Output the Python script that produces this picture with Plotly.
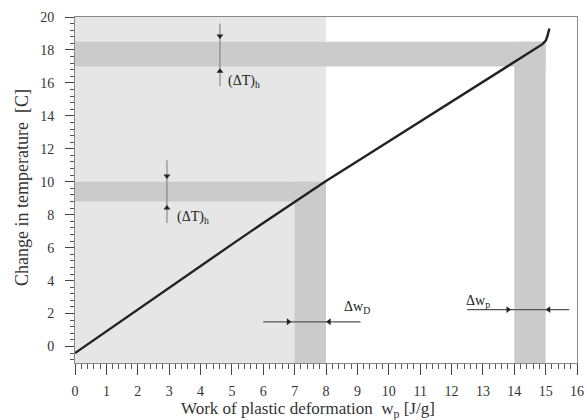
import plotly.graph_objects as go

# Curve: work of plastic deformation vs change in temperature
w_p = [0, 1, 2, 3, 4, 5, 6, 7, 8, 9, 10, 11, 12, 13, 14, 14.5, 14.9, 15.0, 15.05, 15.12]
dT = [-0.4, 0.93, 2.26, 3.58, 4.9, 6.2, 7.5, 8.78, 10.05, 11.25, 12.45, 13.65, 14.85, 16.05, 17.25, 17.85, 18.35, 18.55, 18.8, 19.3]

# Shaded regions
light_region_x = [0, 8]
band_x_lo = [7, 8]        # vertical band for Δw_D
band_x_hi = [14, 15]      # vertical band for Δw_p
band_y_lo = [8.8, 10]     # horizontal band (ΔT) lower
band_y_hi = [17, 18.5]    # horizontal band (ΔT) upper

# Dimension markers
dimT_hi_x = 4.62
dimT_hi_line = [19.6, 15.8]
dimT_hi_marks = [18.85, 16.7]
dimT_lo_x = 2.93
dimT_lo_line = [11.3, 7.5]
dimT_lo_marks = [10.35, 8.4]
dimW_lo_y = 1.5
dimW_lo_line = [6.0, 9.1]
dimW_lo_marks = [6.8, 8.1]
dimW_hi_y = 2.24
dimW_hi_line = [12.5, 15.75]
dimW_hi_marks = [13.8, 15.1]

x_ticks = list(range(0, 17))
y_ticks = list(range(0, 21, 2))
x_range = [0, 16]
y_range = [-1, 20]

x_title = "Work of plastic deformation  w<sub>p</sub> [J/g]"
y_title = "Change in temperature  [C]"

LIGHT = "#e6e6e6"
DARK = "#cbcbcb"
INK = "#222222"
SERIF = "Liberation Serif"

fig = go.Figure()

shapes = [
    dict(type="rect", xref="x", yref="y", x0=light_region_x[0], x1=light_region_x[1],
         y0=y_range[0], y1=y_range[1], fillcolor=LIGHT, line_width=0, layer="below"),
    dict(type="rect", xref="x", yref="y", x0=0, x1=band_x_lo[1],
         y0=band_y_lo[0], y1=band_y_lo[1], fillcolor=DARK, line_width=0, layer="below"),
    dict(type="rect", xref="x", yref="y", x0=0, x1=band_x_hi[1],
         y0=band_y_hi[0], y1=band_y_hi[1], fillcolor=DARK, line_width=0, layer="below"),
    dict(type="rect", xref="x", yref="y", x0=band_x_lo[0], x1=band_x_lo[1],
         y0=y_range[0], y1=band_y_lo[1], fillcolor=DARK, line_width=0, layer="below"),
    dict(type="rect", xref="x", yref="y", x0=band_x_hi[0], x1=band_x_hi[1],
         y0=y_range[0], y1=band_y_hi[1], fillcolor=DARK, line_width=0, layer="below"),
]

# main curve
fig.add_trace(go.Scatter(x=w_p, y=dT, mode="lines", line=dict(color=INK, width=2.4),
                         showlegend=False, hoverinfo="skip"))

def vdim(x, line, marks):
    fig.add_trace(go.Scatter(x=[x, x], y=line, mode="lines", line=dict(color="#777777", width=1),
                             showlegend=False, hoverinfo="skip"))
    fig.add_trace(go.Scatter(x=[x, x], y=marks, mode="markers",
                             marker=dict(symbol=["triangle-down", "triangle-up"], size=6, color=INK),
                             showlegend=False, hoverinfo="skip"))

def hdim(y, line, marks):
    fig.add_trace(go.Scatter(x=line, y=[y, y], mode="lines", line=dict(color="#555555", width=1.2),
                             showlegend=False, hoverinfo="skip"))
    fig.add_trace(go.Scatter(x=marks, y=[y, y], mode="markers",
                             marker=dict(symbol=["triangle-right", "triangle-left"], size=6, color=INK),
                             showlegend=False, hoverinfo="skip"))

vdim(dimT_hi_x, dimT_hi_line, dimT_hi_marks)
vdim(dimT_lo_x, dimT_lo_line, dimT_lo_marks)
hdim(dimW_lo_y, dimW_lo_line, dimW_lo_marks)
hdim(dimW_hi_y, dimW_hi_line, dimW_hi_marks)

labels = [
    (5.4, 16.1, "(ΔT)<sub>h</sub>"),
    (3.75, 7.85, "(ΔT)<sub>h</sub>"),
    (9.0, 2.35, "Δw<sub>D</sub>"),
    (12.85, 2.75, "Δw<sub>p</sub>"),
]
annotations = [dict(x=x, y=y, xref="x", yref="y", text=t, showarrow=False,
                    font=dict(family=SERIF, size=14, color=INK))
               for x, y, t in labels]

# axis titles placed as paper annotations
annotations.append(dict(x=0.5, y=0, xref="paper", yref="paper", text=x_title, showarrow=False,
                        xanchor="center", yanchor="middle", xshift=-18, yshift=-47,
                        font=dict(family=SERIF, size=17, color="#333333")))
annotations.append(dict(x=0, y=0.5, xref="paper", yref="paper", text=y_title, showarrow=False,
                        textangle=-90, xanchor="center", yanchor="middle", xshift=-53, yshift=2,
                        font=dict(family=SERIF, size=18, color="#333333")))

axis_common = dict(showgrid=False, zeroline=False, showline=True, linecolor="#888888",
                   linewidth=1, mirror=True, ticks="outside", tickcolor="#444444",
                   tickwidth=1, automargin=False,
                   tickfont=dict(family=SERIF, size=14, color="#333333"))

fig.update_layout(
    width=587, height=420,
    margin=dict(l=75, r=10, t=17, b=57),
    paper_bgcolor="white", plot_bgcolor="white",
    shapes=shapes, annotations=annotations,
    xaxis=dict(range=x_range, tickvals=x_ticks, ticktext=[str(v) for v in x_ticks],
               ticklen=11, ticklabelstandoff=4,
               minor=dict(dtick=0.2, ticks="outside", ticklen=5, tickcolor="#555555"),
               **axis_common),
    yaxis=dict(range=y_range, tickvals=y_ticks, ticktext=[str(v) for v in y_ticks],
               ticklen=9, ticklabelstandoff=8,
               minor=dict(dtick=0.4, tick0=0, ticks="outside", ticklen=4, tickcolor="#555555"),
               **axis_common),
)

fig.write_html("out.html", config={"displayModeBar": False},
               post_script="document.body.style.margin='0';document.body.style.overflow='hidden';")
